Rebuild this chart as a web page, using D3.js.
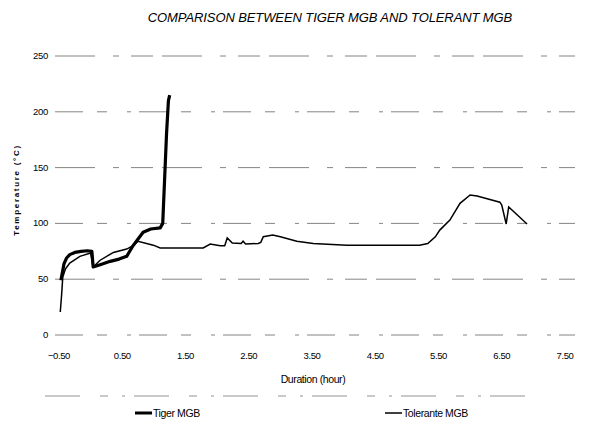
<!DOCTYPE html>
<html>
<head>
<meta charset="utf-8">
<script src="https://cdn.jsdelivr.net/npm/d3@7"></script>
<style>
  body { margin: 0; background: #ffffff; }
</style>
</head>
<body>
<svg id="chart" width="608" height="425"></svg>
<script>
var yTicks = [0, 50, 100, 150, 200, 250];
var xTicks = [-0.5, 0.5, 1.5, 2.5, 3.5, 4.5, 5.5, 6.5, 7.5];

var tigerHours = [-0.47, -0.45, -0.42, -0.38, -0.33, -0.25, -0.15, -0.05, 0.02, 0.04, 0.15, 0.31, 0.45, 0.57, 0.67, 0.75, 0.83, 0.95, 1.1, 1.14, 1.17, 1.2, 1.23, 1.25];
var tigerTemps = [49, 55, 64, 69, 72, 74, 75, 75.5, 75, 61, 63, 66, 68, 70.5, 80, 86, 92, 95, 96, 100, 140, 180, 210, 215];

var tolerantHours = [-0.48, -0.46, -0.44, -0.40, -0.33, -0.17, 0.0, 0.04, 0.15, 0.36, 0.57, 0.67, 0.75, 0.99, 1.1, 1.41, 1.78, 1.89, 2.05, 2.12, 2.16, 2.24, 2.38, 2.41, 2.45, 2.65, 2.69, 2.73, 2.88, 3.0, 3.26, 3.52, 4.05, 5.2, 5.33, 5.45, 5.52, 5.68, 5.84, 6.0, 6.11, 6.47, 6.5, 6.57, 6.61, 6.9];
var tolerantTemps = [20.6, 35, 52, 59, 64.5, 70.5, 73.5, 61, 67, 74, 77, 80, 84, 80.5, 78, 78, 78, 81.5, 80, 80, 87, 82.5, 82, 84, 81.5, 82, 83, 88, 89.5, 88, 84, 82, 80.5, 80.5, 82, 88, 94, 103, 118, 125.5, 124.5, 119, 116.5, 99.5, 114.7, 99.5];

var seriesNames = ['Tiger MGB', 'Tolerante MGB'];

var svg = d3.select('#chart');
var font = '"Liberation Sans Narrow", "Liberation Sans", Arial, sans-serif';

var x = d3.scaleLinear().domain([-0.5, 7.5]).range([59, 565]);
var y = d3.scaleLinear().domain([0, 250]).range([335, 56]);

svg.append('text')
  .attr('x', 330)
  .attr('y', 22)
  .style('text-anchor', 'middle')
  .style('font-family', font)
  .style('font-size', '13px')
  .style('font-style', 'italic')
  .style('letter-spacing', '-0.1px')
  .style('fill', '#000000')
  .text('COMPARISON BETWEEN TIGER MGB AND TOLERANT MGB');

// faded grid lines, like the scan
svg.selectAll('.grid')
  .data(yTicks)
  .enter().append('line')
  .attr('class', 'grid')
  .attr('x1', 55)
  .attr('x2', 575)
  .attr('y1', function(d) { return y(d); })
  .attr('y2', function(d) { return y(d); })
  .attr('stroke', '#666666')
  .attr('stroke-width', 0.8)
  .attr('stroke-dasharray', function(d, i) {
    return i % 2 ? '40,18,6,12,22,9' : '28,14,10,20,4,8';
  });

svg.append('line')
  .attr('x1', 45)
  .attr('x2', 540)
  .attr('y1', 396)
  .attr('y2', 396)
  .attr('stroke', '#777777')
  .attr('stroke-width', 0.8)
  .attr('stroke-dasharray', '35,20,8,14,3,9');

svg.selectAll('.y-label')
  .data(yTicks)
  .enter().append('text')
  .attr('class', 'y-label')
  .attr('x', 48)
  .attr('y', function(d) { return y(d) + 3; })
  .style('text-anchor', 'end')
  .style('font-family', font)
  .style('font-size', '9.5px')
  .style('letter-spacing', '-0.3px')
  .text(function(d) { return d; });

svg.selectAll('.x-label')
  .data(xTicks)
  .enter().append('text')
  .attr('class', 'x-label')
  .attr('x', function(d) { return x(d); })
  .attr('y', 359)
  .style('text-anchor', 'middle')
  .style('font-family', font)
  .style('font-size', '9.5px')
  .style('letter-spacing', '-0.4px')
  .text(function(d) { return d3.format('.2f')(d); });

svg.append('text')
  .attr('x', 313)
  .attr('y', 383)
  .style('text-anchor', 'middle')
  .style('font-family', font)
  .style('font-size', '10.5px')
  .style('letter-spacing', '-0.4px')
  .text('Duration (hour)');

svg.append('text')
  .attr('transform', 'translate(19,190) rotate(-90)')
  .style('text-anchor', 'middle')
  .style('font-family', '"Liberation Sans", Arial, sans-serif')
  .style('font-size', '8px')
  .style('font-weight', 'bold')
  .style('letter-spacing', '1.7px')
  .text('Temperature (°C)');

var line = d3.line()
  .x(function(d) { return x(d[0]); })
  .y(function(d) { return y(d[1]); });

svg.append('path')
  .datum(d3.zip(tolerantHours, tolerantTemps))
  .attr('d', line)
  .attr('fill', 'none')
  .attr('stroke', '#000000')
  .attr('stroke-width', 1.5);

svg.append('path')
  .datum(d3.zip(tigerHours, tigerTemps))
  .attr('d', line)
  .attr('fill', 'none')
  .attr('stroke', '#000000')
  .attr('stroke-width', 3.2)
  .attr('stroke-linejoin', 'round');

var legend = svg.selectAll('.legend')
  .data(seriesNames)
  .enter().append('g')
  .attr('class', 'legend')
  .attr('transform', function(d, i) {
    return 'translate(' + (135 + i * 250) + ',413)';
  });

legend.append('line')
  .attr('x1', 0)
  .attr('x2', 17)
  .attr('stroke', '#000000')
  .attr('stroke-width', function(d, i) { return i ? 1.5 : 3; });

legend.append('text')
  .attr('x', 18)
  .attr('y', 3.5)
  .style('font-family', font)
  .style('font-size', '10.5px')
  .style('letter-spacing', '-0.4px')
  .text(function(d) { return d; });
</script>
</body>
</html>
